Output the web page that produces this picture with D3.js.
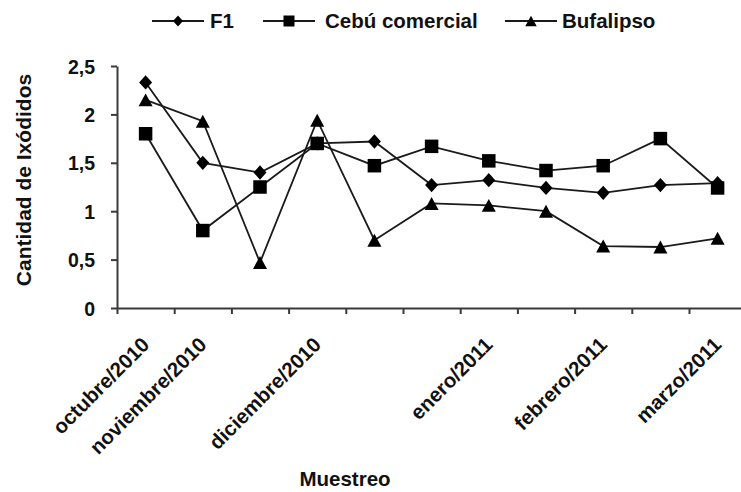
<!DOCTYPE html>
<html>
<head>
<meta charset="utf-8">
<script src="https://cdn.jsdelivr.net/npm/d3@7"></script>
<style>
  html, body { margin: 0; padding: 0; background: #fff; }
  svg { display: block; }
  text { font-family: "Liberation Sans", Arial, sans-serif; font-weight: bold; fill: #111; }
</style>
</head>
<body>
<svg id="chart" width="741" height="492"></svg>
<script>
const categories = ["octubre/2010", "noviembre/2010", "", "diciembre/2010", "", "", "enero/2011", "", "febrero/2011", "", "marzo/2011"];
const seriesNames = ["F1", "Cebú comercial", "Bufalipso"];
const f1Values = [2.33, 1.50, 1.40, 1.70, 1.72, 1.27, 1.32, 1.24, 1.19, 1.27, 1.29];
const cebuValues = [1.80, 0.80, 1.25, 1.70, 1.47, 1.67, 1.52, 1.42, 1.47, 1.75, 1.24];
const bufalipsoValues = [2.15, 1.93, 0.47, 1.94, 0.70, 1.08, 1.06, 1.00, 0.64, 0.63, 0.72];
const yTicks = [0, 0.5, 1, 1.5, 2, 2.5];
const yTitle = "Cantidad de Ixódidos";
const xTitle = "Muestreo";

const series = [
  { name: seriesNames[0], values: f1Values, symbol: "diamond" },
  { name: seriesNames[1], values: cebuValues, symbol: "square" },
  { name: seriesNames[2], values: bufalipsoValues, symbol: "triangle" }
];

const svg = d3.select("#chart");
const plotLeft = 117, plotRight = 746.2, plotTop = 66, plotBottom = 308;

const x = d3.scaleBand().domain(d3.range(categories.length)).range([plotLeft, plotRight]).padding(0);
const xEdge = d3.scaleLinear().domain([0, categories.length]).range([plotLeft, plotRight]);
const y = d3.scaleLinear().domain([0, 2.5]).range([plotBottom, plotTop]);

function markerPath(sym, s) {
  if (sym === "diamond") {
    return `M0,${-s * 0.55}L${s * 0.5},0L0,${s * 0.55}L${-s * 0.5},0Z`;
  } else if (sym === "square") {
    const h = s * 0.5;
    return `M${-h},${-h}H${h}V${h}H${-h}Z`;
  } else {
    const w = s * 0.52, h = s * 0.48;
    return `M0,${-h}L${w},${h}L${-w},${h}Z`;
  }
}

// Axes
const axisColor = "#3a3a3a";
const yAxis = svg.append("g")
  .attr("transform", `translate(${plotLeft},0)`)
  .call(d3.axisLeft(y).tickValues(yTicks).tickSize(6).tickSizeOuter(0).tickPadding(16)
    .tickFormat(d => String(d).replace(".", ",")));
yAxis.selectAll("path, line").attr("stroke", axisColor).attr("stroke-width", 2);
yAxis.selectAll("text").style("font-size", "19.5px").attr("fill", "#111").attr("dy", "0.36em");

const xAxis = svg.append("g")
  .attr("transform", `translate(0,${plotBottom})`)
  .call(d3.axisBottom(xEdge).tickValues(d3.range(0, categories.length)).tickSize(6).tickSizeOuter(0).tickFormat(""));
xAxis.selectAll("path, line").attr("stroke", axisColor).attr("stroke-width", 2);

// X category labels
svg.append("g").selectAll("text")
  .data(categories.map((c, i) => ({ c, i })).filter(d => d.c !== ""))
  .join("text")
  .attr("transform", d => `translate(${x(d.i) + x.bandwidth() / 2 + 5},${346}) rotate(-45)`)
  .attr("text-anchor", "end")
  .style("font-size", "20.5px")
  .text(d => d.c);

// Axis titles
svg.append("text")
  .attr("transform", `translate(31,${180}) rotate(-90)`)
  .attr("text-anchor", "middle")
  .style("font-size", "21px")
  .text(yTitle);

svg.append("text")
  .attr("x", 345).attr("y", 486)
  .attr("text-anchor", "middle")
  .style("font-size", "20.5px")
  .text(xTitle);

// Lines and markers
const line = d3.line().x((d, i) => x(i) + x.bandwidth() / 2).y(d => y(d));
series.forEach(s => {
  svg.append("path")
    .attr("d", line(s.values))
    .attr("fill", "none")
    .attr("stroke", "#1a1a1a")
    .attr("stroke-width", 1.8);
});
series.forEach(s => {
  svg.append("g").selectAll("path")
    .data(s.values)
    .join("path")
    .attr("transform", (d, i) => `translate(${x(i) + x.bandwidth() / 2},${y(d)})`)
    .attr("d", markerPath(s.symbol, s.symbol === "diamond" ? 13 : 13.5))
    .attr("fill", "#000");
});

// Legend
const legendItems = [
  { x: 152, textX: 210 },
  { x: 263, textX: 325 },
  { x: 505, textX: 562 }
];
const lg = svg.append("g");
series.forEach((s, i) => {
  const it = legendItems[i];
  lg.append("line")
    .attr("x1", it.x).attr("x2", it.x + 52).attr("y1", 21).attr("y2", 21)
    .attr("stroke", "#1a1a1a").attr("stroke-width", 1.8);
  lg.append("path")
    .attr("transform", `translate(${it.x + 26},21)`)
    .attr("d", markerPath(s.symbol, s.symbol === "diamond" ? 10 : 11))
    .attr("fill", "#000");
  lg.append("text")
    .attr("x", it.textX).attr("y", 28)
    .style("font-size", "20.5px")
    .text(s.name);
});
</script>
</body>
</html>
